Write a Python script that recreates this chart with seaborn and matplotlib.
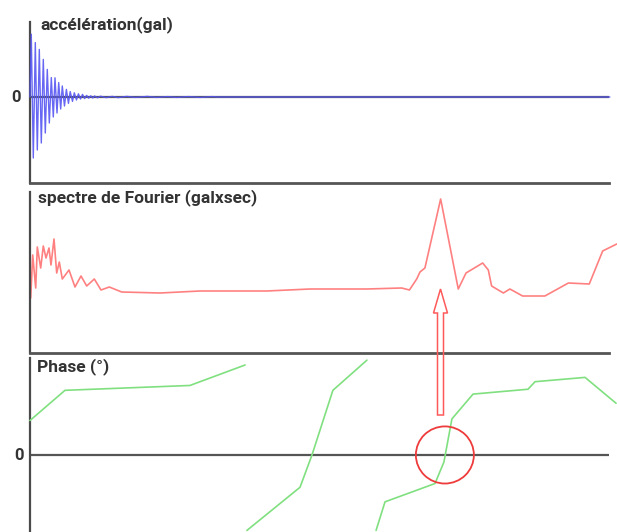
import matplotlib
matplotlib.use("Agg")
import matplotlib.pyplot as plt
from matplotlib.patches import Ellipse, Polygon
import pandas as pd
import seaborn as sns

sns.set_style("white")
plt.rcParams["font.family"] = ["Roboto", "DejaVu Sans"]

# --- acceleration record (time in s, acceleration in gal): successive extrema of the free vibration
acc_time = [0.0, 0.044, 0.112, 0.181, 0.249, 0.317, 0.385, 0.453, 0.521, 0.589, 0.658,
            0.726, 0.794, 0.852, 0.92, 0.978, 1.046, 1.10, 1.175, 1.24, 1.31, 1.37,
            1.448, 1.51, 1.584, 1.65, 1.72, 1.79, 1.86, 1.93, 2.0, 2.07, 2.14, 2.2,
            2.3, 2.4, 2.6, 2.8, 3.0, 3.3, 3.6, 4.0, 4.3, 4.7, 5.0, 5.4, 5.8, 6.2,
            6.4, 19.76]
acc_gal = [0, 314, -305, 272, -265, 238, -230, 188, -180, 138, -130,
           97, -100, 96, -80, 72, -60, 55, -45, 38, -32, 27,
           -22, 21, -15, 16, -10, 13, -8, 8, -6, 6, -5, 5,
           -4, 4, -3, 3, -3, 3, -2, 3, -2, 2, -2, 2, -2, 2,
           0, 0]

# --- Fourier amplitude spectrum (frequency in Hz, amplitude in gal*s)
spec_freq = [0.03, 0.115, 0.243, 0.311, 0.456, 0.566, 0.681, 0.809, 0.894, 1.022,
             1.137, 1.248, 1.376, 1.661, 1.917, 2.172, 2.415, 2.739, 3.024, 3.377,
             3.905, 5.537, 7.24, 10.08, 11.93, 14.34, 15.83, 16.16, 16.47, 16.61,
             16.82, 17.49, 18.24, 18.57, 19.28, 19.52, 19.66, 20.16, 20.44, 20.98,
             21.93, 22.93, 23.82, 24.39, 24.99]
spec_amp = [55, 98, 65, 106, 85, 107, 95, 105, 88, 114,
            80, 91, 74, 83, 66, 77, 67, 74, 63, 66,
            61, 60, 62, 62, 64, 64, 65, 63, 74, 81,
            85, 154, 64, 80, 90, 83, 67, 60, 64, 57,
            57, 70, 69, 102, 109]

# --- phase spectrum (degrees), one list per branch between wraps
phase_freq_1 = [0.0, 1.49, 6.81, 9.16]
phase_deg_1 = [64, 120, 129, 167]
phase_freq_2 = [9.24, 11.5, 12.01, 12.9, 14.35]
phase_deg_2 = [-140, -60, 0, 120, 176]
phase_freq_3 = [14.74, 15.12, 17.25, 17.63, 17.97, 18.87, 21.21, 21.51, 23.64, 24.96]
phase_deg_3 = [-140, -87, -53, -13, 67, 113, 122, 136, 144, 96]

# resonance marker (frequency of the spectral peak, phase crossing)
peak_freq = 17.67

W, H = 617, 532
fig = plt.figure(figsize=(W / 100, H / 100), dpi=100)


def rect(left, top, right, bottom):
    return [left / W, 1 - bottom / H, (right - left) / W, (bottom - top) / H]


ax1 = fig.add_axes(rect(30, 22, 609, 183))
ax2 = fig.add_axes(rect(30, 192, 609, 353))
ax3 = fig.add_axes(rect(30, 358, 609, 532))

spine_col = "#4a4a4a"
text_col = "#333333"
for ax in (ax1, ax2, ax3):
    for side in ("top", "right"):
        ax.spines[side].set_visible(False)
    ax.spines["left"].set_color(spine_col)
    ax.spines["left"].set_linewidth(1.6)
    ax.spines["bottom"].set_color("#555555")
    ax.spines["bottom"].set_linewidth(2)
    ax.set_xticks([])
    ax.set_yticks([])
    ax.patch.set_alpha(0)
ax3.spines["bottom"].set_visible(False)

# acceleration
ax1.set_xlim(0, 19.73)
ax1.set_ylim(-430, 375)
ax1.axhline(0, color="#555555", lw=1.6, zorder=1)
sns.lineplot(x=acc_time, y=acc_gal, ax=ax1, color="#5656f2", lw=1.0, alpha=0.9,
             estimator=None, sort=False, clip_on=False, zorder=3)

# Fourier spectrum
ax2.set_xlim(0, 24.66)
ax2.set_ylim(0, 161)
sns.lineplot(x=spec_freq, y=spec_amp, ax=ax2, color="#ff8080", lw=1.2,
             estimator=None, sort=False, clip_on=False)

# phase
phase_df = pd.concat([
    pd.DataFrame({"freq": phase_freq_1, "deg": phase_deg_1, "branch": 1}),
    pd.DataFrame({"freq": phase_freq_2, "deg": phase_deg_2, "branch": 2}),
    pd.DataFrame({"freq": phase_freq_3, "deg": phase_deg_3, "branch": 3}),
])
ax3.set_xlim(0, 24.66)
ax3.set_ylim(-143, 180)
ax3.axhline(0, color="#555555", lw=1.6, zorder=1)
sns.lineplot(data=phase_df, x="freq", y="deg", units="branch", ax=ax3,
             color="#80e080", lw=1.2, estimator=None, sort=False,
             clip_on=False, zorder=3)

# circle around the phase crossing at the resonance frequency
ax3.add_patch(Ellipse((peak_freq, 0), width=2.47, height=106, fill=False,
                      edgecolor="#ee3b3b", lw=1.3, zorder=4))

for ax in (ax1, ax2, ax3):
    ax.set_xlabel("")
    ax.set_ylabel("")

# hollow arrow pointing from the phase crossing up to the spectral peak
arrow_px = [(440.5, 289), (447.5, 313), (443.5, 313), (443.5, 415),
            (437.5, 415), (437.5, 313), (433.5, 313)]
fig.add_artist(Polygon([(x / W, 1 - y / H) for x, y in arrow_px], closed=True,
                       fill=False, edgecolor="#ff5a5a", lw=1.1,
                       transform=fig.transFigure))

# titles and zero labels
title_kw = dict(fontsize=12.5, fontweight="semibold", color=text_col, va="baseline", ha="left")
fig.text(40 / W, 1 - 29.5 / H, "accélération(gal)", **title_kw)
fig.text(38 / W, 1 - 202.5 / H, "spectre de Fourier (galxsec)", **title_kw)
fig.text(37 / W, 1 - 371.5 / H, "Phase (°)", **title_kw)
fig.text(21 / W, 1 - 97.5 / H, "0", fontsize=12, fontweight="semibold", color=text_col,
         ha="right", va="center")
fig.text(24 / W, 1 - 455.5 / H, "0", fontsize=12, fontweight="semibold", color=text_col,
         ha="right", va="center")

fig.savefig("out.png", dpi=100)
